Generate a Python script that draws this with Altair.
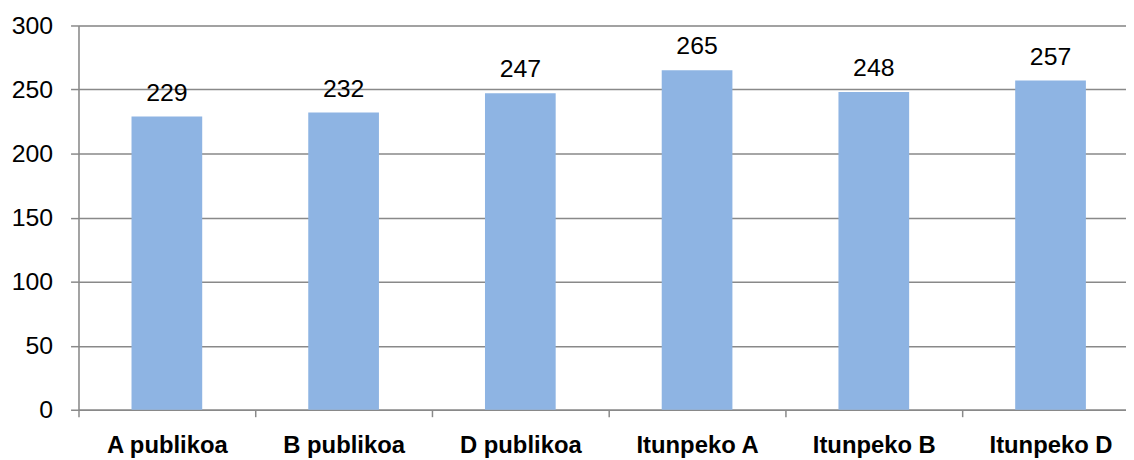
import altair as alt
import pandas as pd

categories = ["A publikoa", "B publikoa", "D publikoa", "Itunpeko A", "Itunpeko B", "Itunpeko D"]
values = [229, 232, 247, 265, 248, 257]
y_ticks = [0, 50, 100, 150, 200, 250, 300]

df = pd.DataFrame({"cat": categories, "val": values})

FONT = "Liberation Sans"
GRID = "#898989"

x_enc = alt.X(
    "cat:N",
    sort=categories,
    title=None,
    scale=alt.Scale(paddingInner=0, paddingOuter=0),
    axis=alt.Axis(
        tickBand="extent",
        labelAngle=0,
        labelFont=FONT,
        labelFontSize=24,
        labelFontWeight="bold",
        labelColor="black",
        labelPadding=17,
        tickSize=7,
        tickColor=GRID,
        tickWidth=1.5,
        domainColor=GRID,
        domainWidth=1.5,
        grid=False,
    ),
)

y_enc = alt.Y(
    "val:Q",
    title=None,
    scale=alt.Scale(domain=[0, 300], nice=False),
    axis=alt.Axis(
        values=y_ticks,
        labelFont=FONT,
        labelFontSize=25,
        labelColor="black",
        labelPadding=18,
        tickSize=8,
        tickColor=GRID,
        tickWidth=1.5,
        domainColor=GRID,
        domainWidth=1.5,
        grid=True,
        gridColor=GRID,
        gridWidth=1.5,
    ),
)

bars = alt.Chart(df).mark_bar(
    color="#8EB4E3", width=alt.RelativeBandSize(0.4)
).encode(x=x_enc, y=y_enc)

labels = alt.Chart(df).mark_text(
    font=FONT, fontSize=25, color="black", baseline="alphabetic", dy=-16
).encode(
    x=alt.X("cat:N", sort=categories),
    y=alt.Y("val:Q"),
    text=alt.Text("val:Q"),
)

chart = (
    alt.layer(bars, labels)
    .properties(
        width=1068,
        height=387,
        autosize=alt.AutoSizeParams(type="none"),
        padding={"left": 71, "top": 16, "right": -13, "bottom": 48},
    )
    .configure_view(stroke=None)
    .configure(background="white")
)

chart.save("out.html", embed_options={"renderer": "svg", "actions": False})
